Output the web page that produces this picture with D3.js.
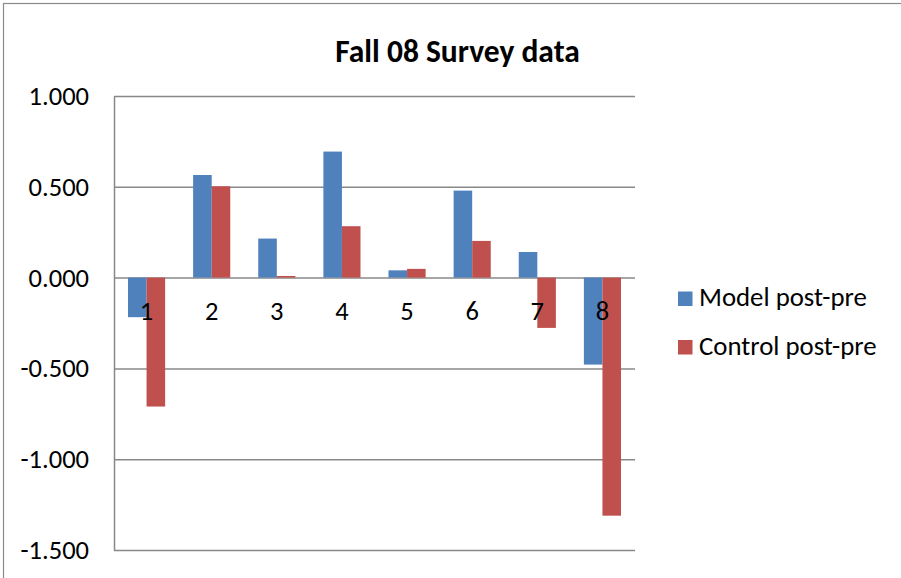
<!DOCTYPE html>
<html>
<head>
<meta charset="utf-8">
<script src="https://cdn.jsdelivr.net/npm/d3@7"></script>
<style>
  html, body { margin: 0; padding: 0; background: #fff; }
  svg { display: block; font-family: Carlito, Calibri, Lato, sans-serif; }
</style>
</head>
<body>
<svg id="chart" width="901" height="578"></svg>
<script>
// Survey score differences (post minus pre) per question
const categories = ["1", "2", "3", "4", "5", "6", "7", "8"];
const seriesNames = ["Model post-pre", "Control post-pre"];
const modelValues = [-0.218, 0.565, 0.215, 0.694, 0.040, 0.479, 0.141, -0.479];
const controlValues = [-0.710, 0.503, 0.009, 0.283, 0.048, 0.202, -0.277, -1.311];
const yTicks = [-1.5, -1.0, -0.5, 0.0, 0.5, 1.0];
const colors = ["#4F81BD", "#C0504D"];

const rows = categories.map((c, i) => ({ cat: c, values: [modelValues[i], controlValues[i]] }));

const svg = d3.select("#chart");
const plot = { left: 114, right: 635, top: 96, bottom: 550 };
const labelSize = 26.5;

// outer chart frame
svg.append("rect")
  .attr("x", 3.5).attr("y", 3.5)
  .attr("width", 910).attr("height", 590)
  .attr("fill", "#fff").attr("stroke", "#8a8a8a").attr("stroke-width", 1.2);

const x = d3.scaleBand()
  .domain(categories)
  .range([plot.left, plot.right])
  .paddingInner(0.43)
  .paddingOuter(0.215);

const xs = d3.scaleBand()
  .domain([0, 1])
  .range([0, x.bandwidth()]);

const y = d3.scaleLinear()
  .domain([-1.5, 1.0])
  .range([plot.bottom, plot.top]);

// horizontal gridlines
const grid = svg.append("g")
  .attr("transform", `translate(${plot.left},0)`)
  .call(d3.axisLeft(y).tickValues(yTicks).tickSize(-(plot.right - plot.left)).tickFormat(""));
grid.select(".domain").remove();
grid.selectAll("line").attr("stroke", "#888").attr("stroke-width", 1.5);

// bars
const groups = svg.append("g").selectAll("g")
  .data(rows).join("g")
  .attr("transform", d => `translate(${x(d.cat)},0)`);

groups.selectAll("rect")
  .data(d => d.values.map((v, i) => ({ v, i })))
  .join("rect")
  .attr("x", d => xs(d.i))
  .attr("width", xs.bandwidth())
  .attr("y", d => y(Math.max(0, d.v)))
  .attr("height", d => Math.abs(y(d.v) - y(0)))
  .attr("fill", d => colors[d.i]);

// y axis with labels (plain hyphen for negatives)
const fmt = d3.format(".3f");
const yAxis = svg.append("g")
  .attr("transform", `translate(${plot.left},0)`)
  .call(d3.axisLeft(y).tickValues(yTicks).tickSize(0).tickPadding(25)
    .tickFormat(d => fmt(d).replace("\u2212", "-")));
yAxis.select(".domain").attr("stroke", "#888").attr("stroke-width", 1.5);
yAxis.selectAll("text")
  .attr("font-family", "Carlito, Calibri, Lato, sans-serif")
  .attr("font-size", labelSize)
  .attr("fill", "#000");

// category labels sit just below the zero line
const xAxis = svg.append("g")
  .attr("transform", `translate(0,${y(0)})`)
  .call(d3.axisBottom(x).tickSize(0).tickPadding(24));
xAxis.select(".domain").remove();
xAxis.selectAll("text")
  .attr("font-family", "Carlito, Calibri, Lato, sans-serif")
  .attr("font-size", labelSize)
  .attr("fill", "#000");

// title
svg.append("text")
  .attr("x", 457.5).attr("y", 62)
  .attr("text-anchor", "middle")
  .attr("font-weight", "bold")
  .attr("font-size", 31.5)
  .attr("fill", "#000")
  .text("Fall 08 Survey data");

// legend
const legend = svg.append("g").selectAll("g")
  .data(seriesNames).join("g")
  .attr("transform", (d, i) => `translate(678,${291.5 + i * 48.5})`);
legend.append("rect")
  .attr("width", 14.5).attr("height", 14.5)
  .attr("fill", (d, i) => colors[i]);
legend.append("text")
  .attr("x", 21).attr("y", 14.5)
  .attr("font-size", 26.8)
  .attr("fill", "#000")
  .text(d => d);
</script>
</body>
</html>
